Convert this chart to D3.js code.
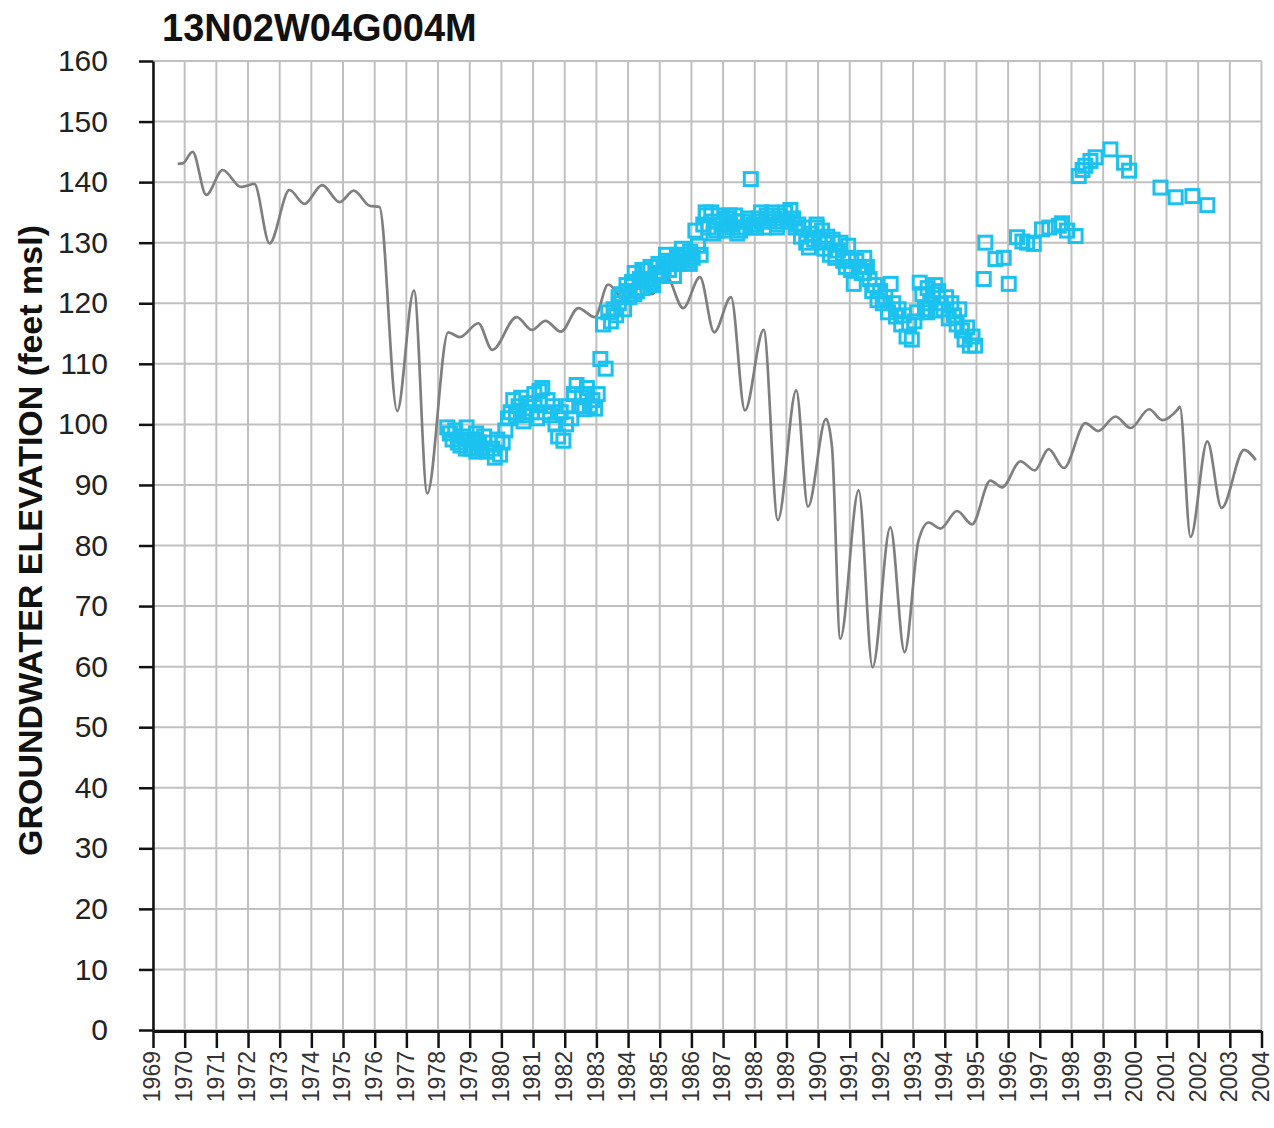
<!DOCTYPE html>
<html>
<head>
<meta charset="utf-8">
<script src="https://cdn.jsdelivr.net/npm/d3@7"></script>
<style>
  body { margin: 0; background: #fff; }
  svg { display: block; font-family: "Liberation Sans", Arial, sans-serif; }
</style>
</head>
<body>
<svg id="chart" width="1274" height="1128"></svg>
<script>
// ---- chart data ----
const wellName = "13N02W04G004M";
const yAxisTitle = "GROUNDWATER ELEVATION (feet msl)";
const levelTicks = d3.range(0, 161, 10);
const yearTicks = d3.range(1969, 2005);

// simulated groundwater elevation (decimal year / ft msl)
const simYears = [1969.78, 1969.94, 1970.25, 1970.68, 1971.2, 1971.78, 1972.2, 1972.68, 1973.31, 1973.78,
  1974.34, 1974.89, 1975.34, 1975.84, 1976.15, 1976.71, 1977.24, 1977.66, 1978.32, 1978.69,
  1979.27, 1979.71, 1980.48, 1980.97, 1981.39, 1981.88, 1982.43, 1982.95, 1983.37, 1983.9,
  1984.35, 1984.75, 1985.2, 1985.74, 1986.27, 1986.72, 1987.25, 1987.69, 1988.28, 1988.73,
  1989.31, 1989.68, 1990.25, 1990.44, 1990.7, 1991.28, 1991.72, 1992.28, 1992.73, 1993.17,
  1993.49, 1993.86, 1994.39, 1994.86, 1995.44, 1995.81, 1996.39, 1996.84, 1997.28, 1997.76,
  1998.44, 1998.84, 1999.39, 1999.87, 2000.45, 2000.87, 2001.34, 2001.42, 2001.76, 2002.29,
  2002.74, 2003.45, 2003.82];
const simLevels = [143.0, 143.1, 145.0, 137.9, 142.0, 139.2, 139.7, 129.9, 138.7, 136.4,
  139.5, 136.7, 138.6, 136.1, 135.9, 102.2, 122.1, 88.6, 115.2, 114.4,
  116.7, 112.3, 117.7, 115.6, 117.1, 115.3, 119.2, 117.7, 123.1, 120.5,
  124.5, 121.5, 124.5, 119.2, 124.3, 115.2, 121.0, 102.3, 115.6, 84.2,
  105.6, 86.4, 100.9, 96.2, 64.6, 89.1, 59.9, 83.0, 62.4, 80.8,
  83.8, 82.8, 85.7, 83.5, 90.7, 89.6, 93.9, 92.4, 95.9, 92.8,
  100.2, 98.9, 101.3, 99.4, 102.5, 100.7, 102.4, 102.9, 81.4, 97.2,
  86.2, 95.8, 94.1];

// observed monthly readings: [year, first month index, readings]
const observedMonthly = [
  [1978, 3, [99.5, 98.5, 97.5, 99, 97, 96.5, 98, 96, 97.5]],
  [1979, 0, [96, 97.5, 95.5, 97, 96, 98, 95.5, 97, 96, 94.5, 97.5, 95]],
  [1980, 0, [97, 99, 101, 102, 104, 101.5, 103, 104.4, 102, 101.5, 103.5, 102]],
  [1981, 0, [105, 101, 103.5, 106, 102, 104, 101.5, 103, 100, 98, 102, 97.3]],
  [1982, 0, [100, 103, 101, 105, 106.5, 103, 104.5, 102.5, 105, 103, 104, 102.6]],
  [1983, 0, [105, 110.8, 116.5, 109.2, 118.5, 117, 119, 118, 120, 121.5, 119, 122]],
  [1984, 0, [121, 123.5, 125, 122, 124, 122.5, 125.5, 124, 126, 123, 125, 126.5]],
  [1985, 0, [124.5, 126, 127, 125.5, 127, 126.5, 128, 126.5, 127.5, 128, 127, 128.5]],
  [1986, 0, [127.5, 132, 129.5, 128, 133, 134.5, 132.5, 135, 133.5, 132, 134.5, 133]],
  [1987, 0, [132, 134, 133, 132.5, 134.5, 133.5, 132, 133.5, 132.5, 134, 140.5, 133]],
  [1988, 0, [132.5, 134, 133.5, 132.5, 134.5, 133.5, 135, 134, 133, 134.5, 133.5, 135]],
  [1989, 0, [133.5, 135.4, 134, 132.5, 133, 131, 132.5, 130, 129.2, 131.5, 130.5, 132.5]],
  [1990, 0, [130.5, 132, 130, 131, 128, 130.5, 127.5, 128.7, 130, 127, 126, 127.5]],
  [1991, 0, [125.5, 123.2, 127, 126, 125, 127.5, 126, 124, 122, 123, 120.5, 122]],
  [1992, 0, [120, 121, 118.5, 123.2, 120, 117.8, 119, 116.5, 118, 114.5, 116.5, 114]],
  [1993, 0, [117, 118.5, 123.4, 121.5, 119, 122.5, 120, 121.5, 118.8, 122, 120, 119]],
  [1994, 0, [121, 117.5, 120, 118, 116.5, 119, 115.5, 114, 116, 113, 114.5, 113]]
];

// additional mid-month readings during the dense record
const extraYears = [1983.7, 1983.95, 1984.2, 1984.45, 1984.7, 1984.95, 1985.2, 1985.45, 1985.7, 1985.95,
  1986.45, 1986.7, 1987.2, 1987.45, 1988.2, 1988.7, 1989.95, 1990.2, 1990.95, 1991.45,
  1993.45, 1993.7, 1980.7, 1981.2, 1982.7, 1979.2, 1978.9];
const extraLevels = [121, 123, 121.5, 125.5, 123.5, 124.5, 128, 124.5, 129, 126.5,
  135, 131.5, 134.5, 131.5, 135, 132.5, 133, 129, 129.5, 125,
  118.5, 123, 100.5, 105.5, 106, 98.5, 99.5];

// later, less frequent observed readings
const sparseYears = [1995.23, 1995.28, 1995.6, 1995.86, 1996.02, 1996.28, 1996.45, 1996.6, 1996.81,
  1997.07, 1997.3, 1997.6, 1997.7, 1997.86, 1998.13, 1998.23, 1998.35, 1998.44, 1998.6, 1998.76,
  1999.23, 1999.66, 1999.82, 2000.81, 2001.29, 2001.82, 2002.29];
const sparseLevels = [124, 130, 127.3, 127.5, 123.2, 130.9, 130.2, 130, 129.8,
  132.2, 132.5, 132.8, 133.2, 132, 131.1, 141, 142, 142.7, 143.5, 144.1,
  145.4, 143.2, 141.9, 139.1, 137.5, 137.7, 136.2];

// ---- assemble series ----
const simulated = simYears.map((t, i) => ({ t, v: simLevels[i] }));
const observed = [];
observedMonthly.forEach(([yr, m0, vals]) => {
  vals.forEach((v, k) => observed.push({ t: yr + (m0 + k + 0.5) / 12, v }));
});
extraYears.forEach((t, i) => observed.push({ t, v: extraLevels[i] }));
sparseYears.forEach((t, i) => observed.push({ t, v: sparseLevels[i] }));

// ---- layout ----
const svg = d3.select("#chart");
const x = d3.scaleLinear().domain([1969, 2004]).range([153, 1261.5]);
const y = d3.scaleLinear().domain([0, 160]).range([1030, 61]);

// grid
const grid = svg.append("g").attr("stroke", "#c0c0c0").attr("stroke-width", 2);
grid.selectAll("line.v").data(yearTicks).join("line")
  .attr("x1", d => x(d)).attr("x2", d => x(d))
  .attr("y1", y(160)).attr("y2", y(0));
grid.selectAll("line.h").data(levelTicks).join("line")
  .attr("x1", x(1969)).attr("x2", x(2004))
  .attr("y1", d => y(d)).attr("y2", d => y(d));

// simulated line
svg.append("path")
  .datum(simulated)
  .attr("fill", "none")
  .attr("stroke", "#7f7f7f")
  .attr("stroke-width", 2.7)
  .attr("d", d3.line().x(d => x(d.t)).y(d => y(d.v)).curve(d3.curveMonotoneX));

// observed markers (open squares)
const s = 13;
svg.append("g").selectAll("rect").data(observed).join("rect")
  .attr("x", d => x(d.t) - s / 2)
  .attr("y", d => y(d.v) - s / 2)
  .attr("width", s).attr("height", s)
  .attr("fill", "none")
  .attr("stroke", "#1bc2f0")
  .attr("stroke-width", 3);

// y axis
const yAxis = svg.append("g")
  .attr("transform", `translate(${x(1969)},0)`)
  .call(d3.axisLeft(y).tickValues(levelTicks).tickSize(14).tickSizeOuter(0).tickPadding(31));
yAxis.select(".domain").attr("stroke", "#111").attr("stroke-width", 2.5);
yAxis.selectAll(".tick line").attr("stroke", "#111").attr("stroke-width", 2.5);
yAxis.selectAll(".tick text")
  .attr("font-size", 30).attr("fill", "#222")
  .attr("font-family", "'Liberation Sans', Arial, sans-serif");

// x axis
const xAxis = svg.append("g")
  .attr("transform", `translate(0,${y(0) + 1})`)
  .call(d3.axisBottom(x).tickValues(yearTicks).tickSize(17).tickSizeOuter(0).tickFormat(d3.format("d")));
xAxis.select(".domain").attr("stroke", "#111").attr("stroke-width", 3);
xAxis.selectAll(".tick line").attr("stroke", "#111").attr("stroke-width", 2.5);
xAxis.selectAll(".tick text")
  .attr("transform", "rotate(-90)")
  .attr("x", -20).attr("y", 0).attr("dy", "0.3em")
  .attr("text-anchor", "end")
  .attr("font-size", 23).attr("fill", "#333")
  .attr("font-family", "'Liberation Sans', Arial, sans-serif");

// titles
svg.append("text")
  .attr("x", 162).attr("y", 41)
  .attr("font-size", 38).attr("font-weight", "bold").attr("fill", "#111")
  .text(wellName);

svg.append("text")
  .attr("transform", `translate(42,${(y(0) + y(160)) / 2 - 5}) rotate(-90)`)
  .attr("text-anchor", "middle")
  .attr("font-size", 34).attr("font-weight", "bold").attr("fill", "#111")
  .text(yAxisTitle);
</script>
</body>
</html>
